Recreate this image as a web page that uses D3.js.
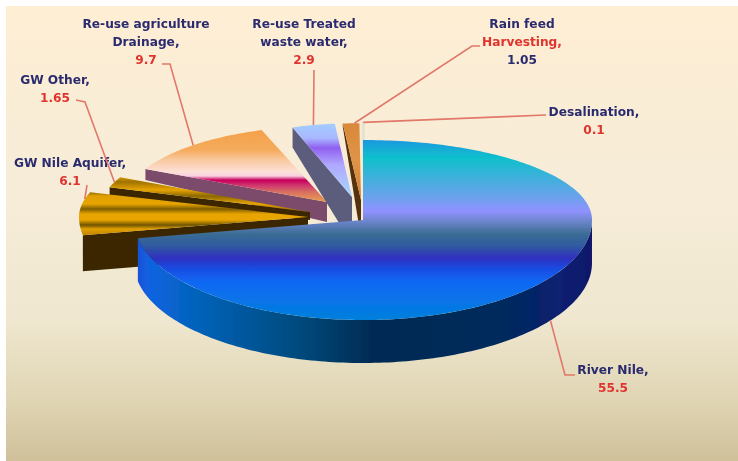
<!DOCTYPE html>
<html>
<head>
<meta charset="utf-8">
<script src="https://cdnjs.cloudflare.com/ajax/libs/d3/7.8.5/d3.min.js"></script>
<style>
  html, body { margin: 0; background: #fff; }
  text { font-family: "DejaVu Sans", sans-serif; font-weight: bold; font-size: 12.2px; text-anchor: middle; }
</style>
</head>
<body>
<svg id="chart" width="738" height="461"></svg>
<script>
const categories = ["River Nile", "GW Nile Aquifer", "GW Other", "Re-use agriculture Drainage", "Re-use Treated waste water", "Rain feed Harvesting", "Desalination"]
const values = [55.5, 6.1, 1.65, 9.7, 2.9, 1.05, 0.1]

// label lines, [text, red?], one block per category
const labelLines = [
  [["River Nile,", 0], ["55.5", 1]],
  [["GW Nile Aquifer,", 0], ["6.1", 1]],
  [["GW Other,", 0], ["1.65", 1]],
  [["Re-use agriculture", 0], ["Drainage,", 0], ["9.7", 1]],
  [["Re-use Treated", 0], ["waste water,", 0], ["2.9", 1]],
  [["Rain feed", 0], ["Harvesting,", 1], ["1.05", 0]],
  [["Desalination,", 0], ["0.1", 1]],
]

const navy = "#2b2b6e"
const red = "#e0342e"
const leaderColor = "#e2786a"

const rx = 229, ryFar = 80, ryNear = 100

// hub = where the slice tip sits after exploding it, sx/sy = perspective shrink,
// wallOut/wallHub = height of the side wall at rim and at tip
const sliceStyle = [
  { hub: [363, 220], sx: 1, sy: 1, wallOut: 43, wallHub: 43, wall: "url(#riverWall)", top: "url(#riverTop)" },
  { hub: [308, 217], sx: 1, sy: 1, wallOut: 36, wallHub: 36, wall: "#3a2700", top: "url(#nileGwTop)" },
  { hub: [310, 212], sx: 0.92, sy: 1, wallOut: 8, wallHub: 8, wall: "#3a2700", top: "url(#otherGwTop)" },
  { hub: [327, 202], sx: 0.88, sy: 0.95, wallOut: 11, wallHub: 20, wall: "#7b4c6c", top: "url(#agriTop)" },
  { hub: [352, 197], sx: 0.8, sy: 0.92, wallOut: 20, wallHub: 47, wall: "#5b5c7c", top: "url(#treatedTop)" },
  { hub: [361, 200], sx: 0.85, sy: 0.96, wallOut: 3, wallHub: 38, wall: "#54300c", top: "url(#rainTop)" },
  { hub: [364, 200], sx: 0.85, sy: 0.97, wallOut: 0, wallHub: 20, wall: "#cfc8b8", top: "#e6e0d0" },
]

// label anchor for each block: x centre, first baseline, where the leader leaves from,
// at = how far along the slice's rim the leader lands
const labelPos = [
  { x: 613, y: 374, at: 0.482, leader: [[575, 375], [565, 375]] },
  { x: 70, y: 167, at: 0.82, leader: [[87, 185]] },
  { x: 55, y: 84, at: 0.5, leader: [[76, 100], [85, 102]] },
  { x: 146, y: 28, at: 0.5, leader: [[162, 64], [170, 64]] },
  { x: 304, y: 28, at: 0.5, leader: [[314, 70]] },
  { x: 522, y: 28, at: 0.7, leader: [[480, 46], [472, 46]] },
  { x: 594, y: 116, at: 0.5, leader: [[546, 115]] },
]

const gradients = {
  bg: [[6, "#feeed4"], [200, "#f6ecd8"], [320, "#efe7cf"], [400, "#e0d5b4"], [461, "#cfc09a"]],
  riverTop: [[140, "#1b98e0"], [158, "#0fc0cc"], [178, "#3fb0dc"], [197, "#6aa2ec"], [211, "#8f92ff"], [222, "#6a84c8"], [234, "#3a6c94"], [246, "#2f5aa0"], [258, "#3030c0"], [268, "#1a4ae0"], [282, "#1068f4"], [320, "#0080dc"]],
  nileGwTop: [[190, "#6a4e00"], [196, "#e0a000"], [204, "#e8a400"], [209, "#7e5e00"], [214, "#e8a400"], [220, "#e8a400"], [225, "#705400"], [229, "#e0a000"], [234, "#c88800"]],
  otherGwTop: [[175, "#e8a400"], [182, "#a07400"], [190, "#e8a400"], [196, "#8a6800"], [204, "#e8a400"], [214, "#6a4e00"]],
  agriTop: [[132, "#f4a24c"], [150, "#f4ab5c"], [160, "#f9c9a0"], [172, "#fde0d8"], [176, "#f8d0e0"], [180, "#c8005c"], [186, "#d03c70"], [192, "#d87060"], [202, "#e8a050"]],
  treatedTop: [[124, "#a4ccff"], [138, "#a8b8ff"], [148, "#9060f0"], [165, "#b0a8ff"], [197, "#a8d8ff"]],
  rainTop: [[122, "#d88838"], [160, "#e09448"], [200, "#d08030"]],
}

const riverWallStops = [[137, "#1a50d8"], [150, "#1064e0"], [200, "#0062b8"], [300, "#004a7c"], [370, "#002c54"], [500, "#002a5c"], [560, "#0a2070"], [592, "#12186a"]]

const svg = d3.select("#chart")
const defs = svg.append("defs")

function addGradient(id, stops, horizontal) {
  const g = defs.append("linearGradient")
    .attr("id", id)
    .attr("gradientUnits", "userSpaceOnUse")
  const lo = stops[0][0], hi = stops[stops.length - 1][0]
  if (horizontal) g.attr("x1", lo).attr("x2", hi).attr("y1", 0).attr("y2", 0)
  else g.attr("x1", 0).attr("x2", 0).attr("y1", lo).attr("y2", hi)
  stops.forEach(s => {
    g.append("stop").attr("offset", (s[0] - lo) / (hi - lo)).attr("stop-color", s[1])
  })
}
Object.keys(gradients).forEach(k => addGradient(k, gradients[k], false))
addGradient("riverWall", riverWallStops, true)

// the source picture is a soft video grab
defs.append("filter").attr("id", "soft")
  .attr("x", "-5%").attr("y", "-5%").attr("width", "110%").attr("height", "110%")
  .append("feGaussianBlur").attr("stdDeviation", 0.45)

svg.append("rect")
  .attr("x", 6).attr("y", 6).attr("width", 732).attr("height", 455)
  .attr("fill", "url(#bg)")

const root = svg.append("g").attr("filter", "url(#soft)")

const pie = d3.pie().sort(null).value(d => d)
const arcs = pie(values)

// rim point of a slice, far half of the ellipse is flatter than the near half
function rim(st, a) {
  const c = Math.cos(a)
  const ry = c > 0 ? ryFar : ryNear
  return [st.hub[0] + rx * st.sx * Math.sin(a), st.hub[1] - ry * st.sy * c]
}

function rimPoints(st, a0, a1) {
  const n = Math.max(2, Math.ceil(Math.abs(a1 - a0) / 0.02))
  return d3.range(n + 1).map(i => rim(st, a0 + (a1 - a0) * i / n))
}

const line = d3.line()
const closed = pts => line(pts) + "Z"

// back to front, river nile last as it covers the rest
const order = [3, 4, 5, 6, 2, 1, 0]

order.forEach(i => {
  const st = sliceStyle[i]
  const d = arcs[i]
  const g = root.append("g").attr("class", "slice")

  if (i === 0) {
    // outer wall of the big slice, only the front half shows
    const pts = rimPoints(st, Math.PI / 2, d.endAngle)
    const low = pts.map(p => [p[0], p[1] + st.wallOut]).reverse()
    g.append("path").attr("d", closed(pts.concat(low))).attr("fill", st.wall)
  } else {
    // radial wall on the start edge of the slice
    const p = rim(st, d.startAngle)
    g.append("path")
      .attr("d", closed([st.hub, p, [p[0], p[1] + st.wallOut], [st.hub[0], st.hub[1] + st.wallHub]]))
      .attr("fill", st.wall)
  }

  g.append("path")
    .attr("d", closed([st.hub].concat(rimPoints(st, d.startAngle, d.endAngle))))
    .attr("fill", st.top)
    .attr("stroke", i === 6 ? st.top : "none")
    .attr("stroke-width", i === 6 ? 1.5 : 0)
})

// leaders and labels
arcs.forEach((d, i) => {
  const st = sliceStyle[i]
  const pos = labelPos[i]
  const end = rim(st, d.startAngle + (d.endAngle - d.startAngle) * pos.at)
  if (i === 0) end[1] += st.wallOut
  root.append("path")
    .attr("d", line(pos.leader.concat([end])))
    .attr("fill", "none")
    .attr("stroke", leaderColor)
    .attr("stroke-width", 1.6)

  labelLines[i].forEach((l, j) => {
    root.append("text")
      .attr("x", pos.x)
      .attr("y", pos.y + j * 18)
      .attr("fill", l[1] ? red : navy)
      .text(l[0])
  })
})
</script>
</body>
</html>
